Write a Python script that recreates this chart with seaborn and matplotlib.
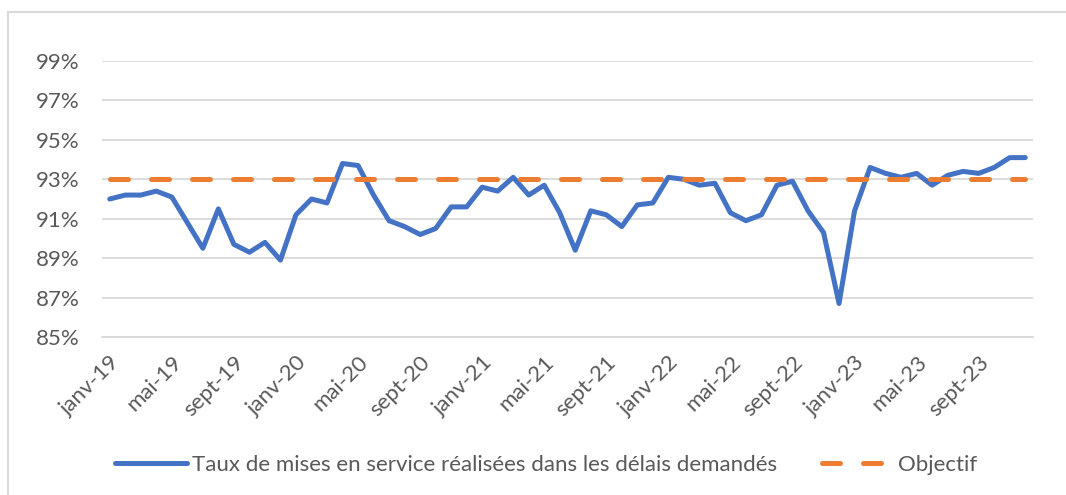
import numpy as np
import pandas as pd
import matplotlib
matplotlib.use("Agg")
import matplotlib.pyplot as plt
from matplotlib.lines import Line2D
import seaborn as sns

# monthly values, janv-19 .. dec-23
months = ["janv", "févr", "mars", "avr", "mai", "juin",
          "juil", "août", "sept", "oct", "nov", "déc"]
years = ["19", "20", "21", "22", "23"]
taux = [92.0, 92.2, 92.2, 92.4, 92.1, 90.8, 89.5, 91.5, 89.7, 89.3, 89.8, 88.9,
        91.2, 92.0, 91.8, 93.8, 93.7, 92.2, 90.9, 90.6, 90.2, 90.5, 91.6, 91.6,
        92.6, 92.4, 93.1, 92.2, 92.7, 91.3, 89.4, 91.4, 91.2, 90.6, 91.7, 91.8,
        93.1, 93.0, 92.7, 92.8, 91.3, 90.9, 91.2, 92.7, 92.9, 91.4, 90.3, 86.7,
        91.4, 93.6, 93.3, 93.1, 93.3, 92.7, 93.2, 93.4, 93.3, 93.6, 94.1, 94.1]
objectif = [93.0] * 60
y_ticks = [85, 87, 89, 91, 93, 95, 97, 99]

labels = [m + "-" + y for y in years for m in months]
df = pd.DataFrame({"idx": np.arange(len(taux)), "mois": labels,
                   "taux": taux, "objectif": objectif})

sns.set_theme(style="white")
plt.rcParams['font.family'] = ['Lato', 'DejaVu Sans']

blue = '#4472C4'
orange = '#ED7D31'
grey_txt = '#595959'
grid_col = '#D9D9D9'
fs = 16

fig = plt.figure(figsize=(10.66, 4.95), dpi=100)
ax = fig.add_axes([102/1066, 1 - 337/495, (1033-102)/1066, (337-61)/495])

sns.lineplot(data=df, x="idx", y="taux", ax=ax, color=blue, lw=3.6,
             solid_capstyle='round', solid_joinstyle='round',
             label="Taux de mises en service réalisées dans les délais demandés")
sns.lineplot(data=df, x="idx", y="objectif", ax=ax, color=orange, lw=3.6,
             linestyle=(0, (3.6, 4.6)), dash_capstyle='round',
             label="Objectif")

ax.set_xlim(-0.5, len(taux) - 0.5)
ax.set_ylim(85, 99)
ax.set_yticks(y_ticks)
ax.set_yticklabels([f"{v}%" for v in y_ticks], fontsize=fs, color=grey_txt)
ax.yaxis.grid(True, color=grid_col, lw=1.3)
ax.set_axisbelow(True)

major = np.arange(0, len(taux), 4)
ax.set_xticks(major)
ax.set_xticklabels([labels[i] for i in major], fontsize=fs, color=grey_txt,
                   rotation=45, ha='right', rotation_mode='anchor')
ax.set_xticks(np.arange(-0.5, len(taux), 4), minor=True)
ax.tick_params(axis='x', which='major', length=0, pad=11)
ax.tick_params(axis='x', which='minor', length=7, width=1.3, color=grid_col)
ax.tick_params(axis='y', length=0, pad=16)

for s in ['top', 'right', 'left']:
    ax.spines[s].set_visible(False)
ax.spines['bottom'].set_color(grid_col)
ax.spines['bottom'].set_linewidth(1.3)
ax.set_xlabel("")
ax.set_ylabel("")

ax.get_legend().remove()
handles, labs = ax.get_legend_handles_labels()
fig.legend(handles, labs, loc='center', bbox_to_anchor=(546.5/1066, 1 - 465/495),
           ncol=2, frameon=False, fontsize=fs, handlelength=3.2,
           handletextpad=0.25, columnspacing=2.0, labelcolor=grey_txt)

# chart frame (only top and left edges are visible in the crop)
fig.add_artist(Line2D([8/1066, 1], [1 - 12/495, 1 - 12/495],
                      transform=fig.transFigure, color=grid_col, lw=1.5))
fig.add_artist(Line2D([8/1066, 8/1066], [0, 1 - 12/495],
                      transform=fig.transFigure, color=grid_col, lw=1.5))

fig.savefig("out.png", dpi=100)
